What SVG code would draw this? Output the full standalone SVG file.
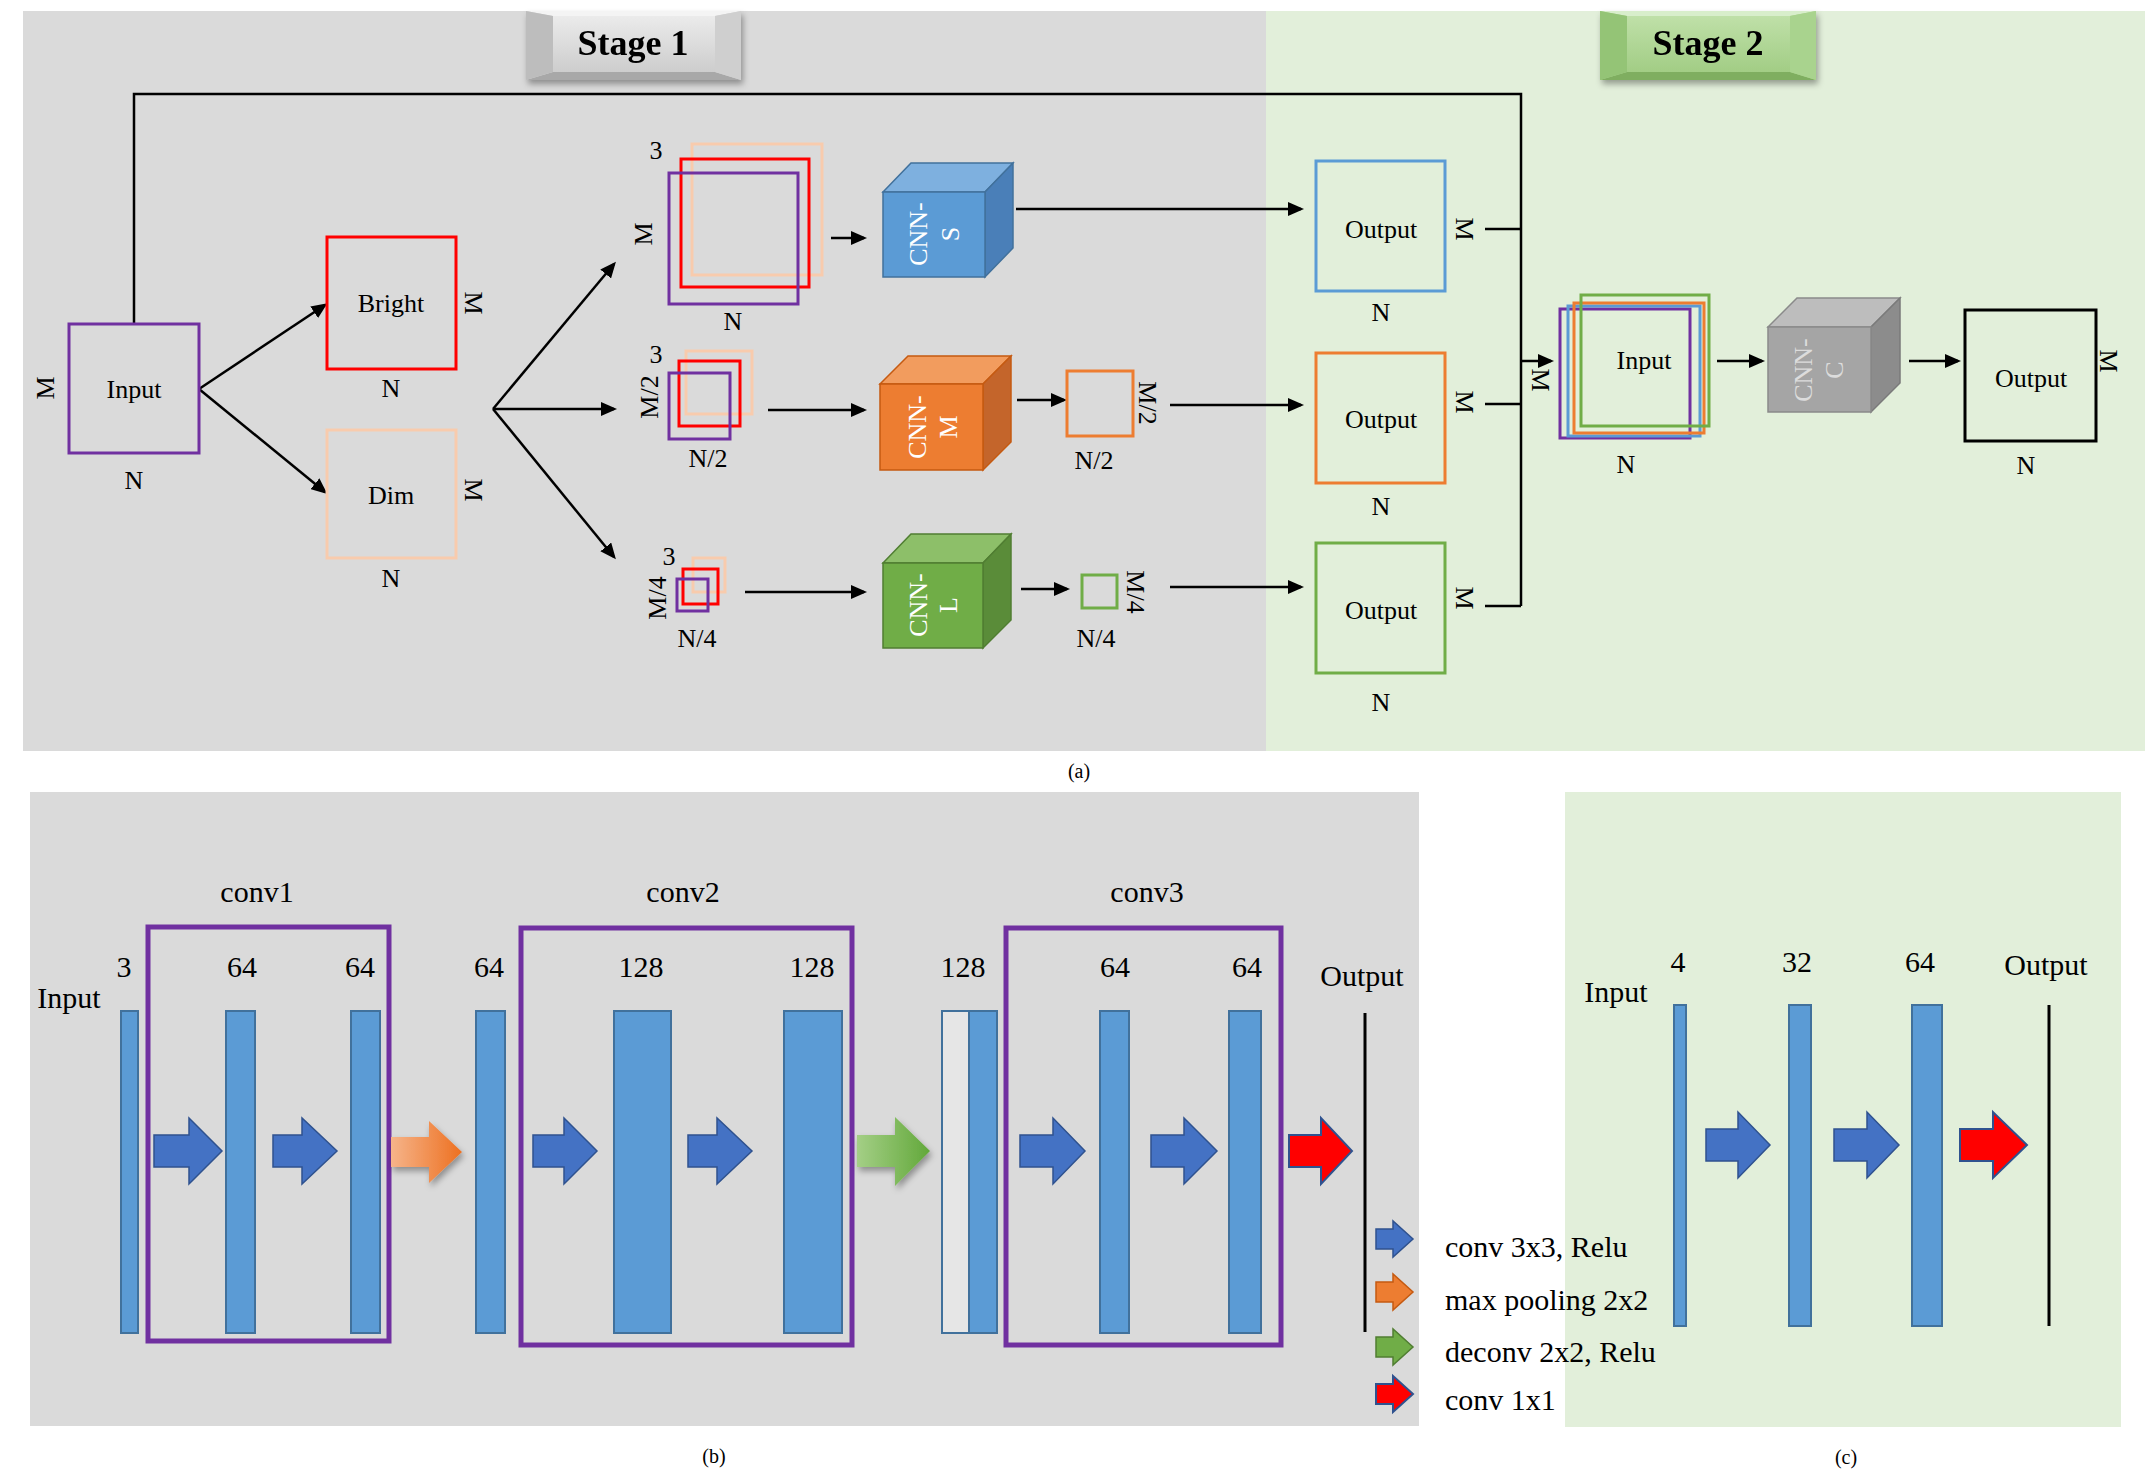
<svg xmlns="http://www.w3.org/2000/svg" width="2148" height="1484" viewBox="0 0 2148 1484">
  <style>
    .t { font-family: "Liberation Serif", "Times New Roman", serif; font-size: 26px; fill: #000; text-anchor: middle; }
    .tb { font-family: "Liberation Serif", "Times New Roman", serif; font-size: 30px; fill: #000; text-anchor: middle; }
    .tl { font-family: "Liberation Serif", "Times New Roman", serif; font-size: 30px; fill: #000; text-anchor: start; }
    .cap { font-family: "Liberation Serif", "Times New Roman", serif; font-size: 20px; fill: #000; text-anchor: middle; }
    .stage { font-family: "Liberation Serif", "Times New Roman", serif; font-size: 36px; font-weight: bold; fill: #000; text-anchor: middle; }
    .cnn { font-family: "Liberation Serif", "Times New Roman", serif; font-size: 26px; fill: #fff; text-anchor: middle; }
    .box { fill: none; stroke-width: 3; }
    .link { fill: none; stroke: #000; stroke-width: 2.5; }
    .arr { fill: none; stroke: #000; stroke-width: 2.5; marker-end: url(#head); }
    .bar { fill: #5b9bd5; stroke: #41719c; stroke-width: 2; }
    .blk { fill: #4472c4; stroke: #2f528f; stroke-width: 1.5; }
    .red { fill: #ff0000; stroke: #2f528f; stroke-width: 2; }
    .grp { fill: none; stroke: #7030a0; stroke-width: 5; }
  </style>
  <defs>
    <marker id="head" markerUnits="userSpaceOnUse" markerWidth="16" markerHeight="14" refX="13" refY="7" orient="auto">
      <path d="M0,0 L16,7 L0,14 Z" fill="#000"/>
    </marker>
    <linearGradient id="gFace" x1="0" y1="0" x2="0" y2="1">
      <stop offset="0" stop-color="#ebebeb"/>
      <stop offset="1" stop-color="#cdcdcd"/>
    </linearGradient>
    <linearGradient id="gFaceG" x1="0" y1="0" x2="0" y2="1">
      <stop offset="0" stop-color="#bfe0a8"/>
      <stop offset="1" stop-color="#a2cd85"/>
    </linearGradient>
    <linearGradient id="gOrange" x1="0" y1="0" x2="1" y2="0">
      <stop offset="0" stop-color="#f6b48a"/>
      <stop offset="1" stop-color="#ed7020"/>
    </linearGradient>
    <linearGradient id="gGreen" x1="0" y1="0" x2="1" y2="0">
      <stop offset="0" stop-color="#a4cf86"/>
      <stop offset="1" stop-color="#62a83a"/>
    </linearGradient>
    <filter id="shadow" x="-20%" y="-20%" width="150%" height="160%">
      <feDropShadow dx="2" dy="4" stdDeviation="3" flood-color="#000" flood-opacity="0.35"/>
    </filter>
  </defs>

  <!-- panel backgrounds -->
  <rect x="23" y="11" width="1243" height="740" fill="#dadada"/>
  <rect x="1266" y="11" width="879" height="740" fill="#e2efda"/>
  <rect x="30" y="792" width="1389" height="634" fill="#dadada"/>
  <rect x="1565" y="792" width="556" height="635" fill="#e2efda"/>

  <!-- stage banners -->
  <g id="stage1" filter="url(#shadow)">
    <rect x="526" y="11" width="215" height="69" fill="#d6d6d6"/>
    <polygon points="526,11 741,11 715,16 553,16" fill="#f4f4f4"/>
    <polygon points="526,80 553,72 715,72 741,80" fill="#a8a8a8"/>
    <polygon points="526,11 553,16 553,72 526,80" fill="#bdbdbd"/>
    <polygon points="741,11 715,16 715,72 741,80" fill="#cfcfcf"/>
    <rect x="553" y="16" width="162" height="56" fill="url(#gFace)"/>
    <text class="stage" x="633" y="55">Stage 1</text>
  </g>
  <g id="stage2" filter="url(#shadow)">
    <rect x="1600" y="11" width="216" height="69" fill="#acd490"/>
    <polygon points="1600,11 1816,11 1790,16 1627,16" fill="#d8eecb"/>
    <polygon points="1600,80 1627,72 1790,72 1816,80" fill="#7fae60"/>
    <polygon points="1600,11 1627,16 1627,72 1600,80" fill="#94c476"/>
    <polygon points="1816,11 1790,16 1790,72 1816,80" fill="#a9d38e"/>
    <rect x="1627" y="16" width="163" height="56" fill="url(#gFaceG)"/>
    <text class="stage" x="1708" y="55">Stage 2</text>
  </g>

  <!-- connectors of panel (a) -->
  <g id="connectors">
    <path class="link" d="M134,324 V94 H1521 V606"/>
    <path class="link" d="M1485,229 H1521 M1485,404 H1521 M1485,606 H1521"/>
    <line class="arr" x1="1521" y1="361" x2="1551" y2="361"/>
    <line class="arr" x1="199" y1="389" x2="325" y2="305"/>
    <line class="arr" x1="199" y1="389" x2="325" y2="492"/>
    <line class="arr" x1="493" y1="409" x2="614" y2="264"/>
    <line class="arr" x1="493" y1="409" x2="614" y2="409"/>
    <line class="arr" x1="493" y1="409" x2="614" y2="557"/>
    <line class="arr" x1="831" y1="238" x2="864" y2="238"/>
    <line class="arr" x1="1016" y1="209" x2="1301" y2="209"/>
    <line class="arr" x1="768" y1="410" x2="864" y2="410"/>
    <line class="arr" x1="1017" y1="400" x2="1064" y2="400"/>
    <line class="arr" x1="1170" y1="405" x2="1301" y2="405"/>
    <line class="arr" x1="745" y1="592" x2="864" y2="592"/>
    <line class="arr" x1="1021" y1="589" x2="1067" y2="589"/>
    <line class="arr" x1="1170" y1="587" x2="1301" y2="587"/>
    <line class="arr" x1="1717" y1="361" x2="1762" y2="361"/>
    <line class="arr" x1="1909" y1="361" x2="1958" y2="361"/>
  </g>

  <!-- input image -->
  <g id="input">
    <rect class="box" x="69" y="324" width="130" height="129" stroke="#7030a0"/>
    <text class="t" x="134" y="398">Input</text>
    <text class="t" transform="translate(54,388) rotate(-90)">M</text>
    <text class="t" x="134" y="489">N</text>
  </g>

  <g id="bright">
    <rect class="box" x="327" y="237" width="129" height="132" stroke="#ff0000"/>
    <text class="t" x="391" y="312">Bright</text>
    <text class="t" transform="translate(465,303) rotate(90)">M</text>
    <text class="t" x="391" y="397">N</text>
  </g>

  <g id="dim">
    <rect class="box" x="327" y="430" width="129" height="128" stroke="#f8cbad" stroke-width="2.5"/>
    <text class="t" x="391" y="504">Dim</text>
    <text class="t" transform="translate(465,490) rotate(90)">M</text>
    <text class="t" x="391" y="587">N</text>
  </g>

  <!-- three-channel stacks at full, half and quarter size -->
  <g id="stack-s">
    <rect class="box" x="692" y="144" width="130" height="131" stroke="#f8cbad" stroke-width="2.5"/>
    <rect class="box" x="681" y="159" width="128" height="128" stroke="#ff0000"/>
    <rect class="box" x="669" y="173" width="129" height="131" stroke="#7030a0"/>
    <text class="t" x="656" y="159">3</text>
    <text class="t" transform="translate(652,234) rotate(-90)">M</text>
    <text class="t" x="733" y="330">N</text>
  </g>

  <g id="stack-m">
    <rect class="box" x="686" y="351" width="66" height="63" stroke="#f8cbad" stroke-width="2.5"/>
    <rect class="box" x="679" y="361" width="61" height="65" stroke="#ff0000"/>
    <rect class="box" x="669" y="373" width="61" height="66" stroke="#7030a0"/>
    <text class="t" x="656" y="363">3</text>
    <text class="t" transform="translate(658,397) rotate(-90)">M/2</text>
    <text class="t" x="708" y="467">N/2</text>
  </g>

  <g id="stack-l">
    <rect class="box" x="693" y="558" width="32" height="34" stroke="#f8cbad" stroke-width="2.5"/>
    <rect class="box" x="683" y="569" width="35" height="35" stroke="#ff0000"/>
    <rect class="box" x="677" y="579" width="31" height="32" stroke="#7030a0"/>
    <text class="t" x="669" y="565">3</text>
    <text class="t" transform="translate(666,598) rotate(-90)">M/4</text>
    <text class="t" x="697" y="647">N/4</text>
  </g>

  <!-- networks drawn as cubes -->
  <g id="cnn-s">
    <polygon points="883,192 911,163 1013,163 985,192" fill="#7eb0df" stroke="#41719c" stroke-width="1.5"/>
    <polygon points="985,192 1013,163 1013,248 985,277" fill="#4a7fb8" stroke="#41719c" stroke-width="1.5"/>
    <rect x="883" y="192" width="102" height="85" fill="#5b9bd5" stroke="#41719c" stroke-width="1.5"/>
    <text class="cnn" transform="translate(927,234) rotate(-90)">CNN-</text>
    <text class="cnn" transform="translate(959,234) rotate(-90)">S</text>
  </g>

  <g id="cnn-m">
    <polygon points="880,384 908,356 1011,356 983,384" fill="#f29c5e" stroke="#c55a11" stroke-width="1.5"/>
    <polygon points="983,384 1011,356 1011,442 983,470" fill="#c4652b" stroke="#c55a11" stroke-width="1.5"/>
    <rect x="880" y="384" width="103" height="86" fill="#ed7d31" stroke="#c55a11" stroke-width="1.5"/>
    <text class="cnn" transform="translate(926,427) rotate(-90)">CNN-</text>
    <text class="cnn" transform="translate(957,427) rotate(-90)">M</text>
  </g>

  <g id="out-m-small">
    <rect class="box" x="1067" y="371" width="66" height="65" stroke="#ed7d31" stroke-width="2.5"/>
    <text class="t" transform="translate(1139,403) rotate(90)">M/2</text>
    <text class="t" x="1094" y="469">N/2</text>
  </g>

  <g id="cnn-l">
    <polygon points="883,563 911,534 1011,534 983,563" fill="#8dbf69" stroke="#507e32" stroke-width="1.5"/>
    <polygon points="983,563 1011,534 1011,620 983,648" fill="#5a8c39" stroke="#507e32" stroke-width="1.5"/>
    <rect x="883" y="563" width="100" height="85" fill="#70ad47" stroke="#507e32" stroke-width="1.5"/>
    <text class="cnn" transform="translate(927,605) rotate(-90)">CNN-</text>
    <text class="cnn" transform="translate(957,605) rotate(-90)">L</text>
  </g>

  <g id="out-l-small">
    <rect class="box" x="1082" y="575" width="35" height="33" stroke="#70ad47" stroke-width="2.5"/>
    <text class="t" transform="translate(1127,592) rotate(90)">M/4</text>
    <text class="t" x="1096" y="647">N/4</text>
  </g>

  <!-- stage 2 -->
  <g id="output-s">
    <rect class="box" x="1316" y="161" width="129" height="130" stroke="#5b9bd5" stroke-width="2.5"/>
    <text class="t" x="1381" y="238">Output</text>
    <text class="t" transform="translate(1456,229) rotate(90)">M</text>
    <text class="t" x="1381" y="321">N</text>
  </g>

  <g id="output-m">
    <rect class="box" x="1316" y="353" width="129" height="130" stroke="#ed7d31" stroke-width="2.5"/>
    <text class="t" x="1381" y="428">Output</text>
    <text class="t" transform="translate(1456,402) rotate(90)">M</text>
    <text class="t" x="1381" y="515">N</text>
  </g>

  <g id="output-l">
    <rect class="box" x="1316" y="543" width="129" height="130" stroke="#70ad47" stroke-width="2.5"/>
    <text class="t" x="1381" y="619">Output</text>
    <text class="t" transform="translate(1456,598) rotate(90)">M</text>
    <text class="t" x="1381" y="711">N</text>
  </g>

  <g id="input-2">
    <rect class="box" x="1560" y="309" width="130" height="129" stroke="#7030a0" stroke-width="2.5"/>
    <rect class="box" x="1568" y="306" width="132" height="130" stroke="#5b9bd5" stroke-width="2.5"/>
    <rect class="box" x="1574" y="303" width="130" height="130" stroke="#ed7d31" stroke-width="2.5"/>
    <rect class="box" x="1581" y="295" width="128" height="131" stroke="#70ad47" stroke-width="2.5"/>
    <text class="t" x="1644" y="369">Input</text>
    <text class="t" transform="translate(1532,380) rotate(90)">M</text>
    <text class="t" x="1626" y="473">N</text>
  </g>

  <g id="cnn-c">
    <polygon points="1768,327 1797,298 1900,298 1871,327" fill="#bdbdbd" stroke="#8a8a8a" stroke-width="1.5"/>
    <polygon points="1871,327 1900,298 1900,383 1871,412" fill="#8c8c8c" stroke="#7a7a7a" stroke-width="1.5"/>
    <rect x="1768" y="327" width="103" height="85" fill="#a5a5a5" stroke="#8a8a8a" stroke-width="1.5"/>
    <text class="cnn" transform="translate(1812,370) rotate(-90)" fill="#dcdcdc" style="fill:#dcdcdc">CNN-</text>
    <text class="cnn" transform="translate(1843,370) rotate(-90)" style="fill:#dcdcdc">C</text>
  </g>

  <g id="output-final">
    <rect class="box" x="1965" y="310" width="131" height="131" stroke="#000"/>
    <text class="t" x="2031" y="387">Output</text>
    <text class="t" transform="translate(2100,361) rotate(90)">M</text>
    <text class="t" x="2026" y="474">N</text>
  </g>

  <text class="cap" x="1079" y="778">(a)</text>

  <!-- panel (b): single-scale network -->
  <g id="net-b">
    <text class="tb" x="257" y="902">conv1</text>
    <text class="tb" x="683" y="902">conv2</text>
    <text class="tb" x="1147" y="902">conv3</text>
    <rect class="grp" x="148" y="927" width="241" height="414"/>
    <rect class="grp" x="521" y="928" width="331" height="417"/>
    <rect class="grp" x="1006" y="928" width="275" height="417"/>

    <text class="tb" x="69" y="1008">Input</text>
    <text class="tb" x="124" y="977">3</text>
    <text class="tb" x="242" y="977">64</text>
    <text class="tb" x="360" y="977">64</text>
    <text class="tb" x="489" y="977">64</text>
    <text class="tb" x="641" y="977">128</text>
    <text class="tb" x="812" y="977">128</text>
    <text class="tb" x="963" y="977">128</text>
    <text class="tb" x="1115" y="977">64</text>
    <text class="tb" x="1247" y="977">64</text>
    <text class="tb" x="1362" y="986">Output</text>

    <rect class="bar" x="121" y="1011" width="17" height="322"/>
    <rect class="bar" x="226" y="1011" width="29" height="322"/>
    <rect class="bar" x="351" y="1011" width="29" height="322"/>
    <rect class="bar" x="476" y="1011" width="29" height="322"/>
    <rect class="bar" x="614" y="1011" width="57" height="322"/>
    <rect class="bar" x="784" y="1011" width="58" height="322"/>
    <rect x="942" y="1011" width="27" height="322" fill="#e6e6e6" stroke="#41719c" stroke-width="2"/>
    <rect class="bar" x="969" y="1011" width="28" height="322"/>
    <rect class="bar" x="1100" y="1011" width="29" height="322"/>
    <rect class="bar" x="1229" y="1011" width="32" height="322"/>
    <line x1="1365" y1="1013" x2="1365" y2="1332" stroke="#000" stroke-width="3"/>

    <polygon class="blk" points="154,1135 189,1135 189,1118 222,1151 189,1184 189,1167 154,1167"/>
    <polygon class="blk" points="273,1135 302,1135 302,1118 337,1151 302,1184 302,1167 273,1167"/>
    <polygon points="391,1137 429,1137 429,1121 462,1152 429,1183 429,1167 391,1167" fill="url(#gOrange)" filter="url(#shadow)"/>
    <polygon class="blk" points="533,1135 564,1135 564,1118 597,1151 564,1184 564,1167 533,1167"/>
    <polygon class="blk" points="688,1135 717,1135 717,1118 752,1151 717,1184 717,1167 688,1167"/>
    <polygon points="857,1135 895,1135 895,1117 930,1151 895,1186 895,1167 857,1167" fill="url(#gGreen)" filter="url(#shadow)"/>
    <polygon class="blk" points="1020,1135 1053,1135 1053,1118 1085,1151 1053,1184 1053,1167 1020,1167"/>
    <polygon class="blk" points="1151,1135 1184,1135 1184,1118 1217,1151 1184,1184 1184,1167 1151,1167"/>
    <polygon class="red" points="1289,1135 1321,1135 1321,1118 1352,1151 1321,1184 1321,1167 1289,1167"/>
  </g>

  <!-- legend -->
  <g id="legend">
    <polygon class="blk" points="1376,1229 1393,1229 1393,1221 1413,1239 1393,1257 1393,1249 1376,1249"/>
    <polygon points="1376,1282 1393,1282 1393,1274 1413,1292 1393,1310 1393,1302 1376,1302" fill="#ed7d31" stroke="#c55a11" stroke-width="1.5"/>
    <polygon points="1376,1337 1393,1337 1393,1329 1413,1347 1393,1365 1393,1357 1376,1357" fill="#70ad47" stroke="#507e32" stroke-width="1.5"/>
    <polygon class="red" points="1376,1384 1393,1384 1393,1376 1413,1394 1393,1412 1393,1404 1376,1404"/>
    <text class="tl" x="1445" y="1257">conv 3x3, Relu</text>
    <text class="tl" x="1445" y="1310">max pooling 2x2</text>
    <text class="tl" x="1445" y="1362">deconv 2x2, Relu</text>
    <text class="tl" x="1445" y="1410">conv 1x1</text>
  </g>

  <text class="cap" x="714" y="1463">(b)</text>

  <!-- panel (c): fusion network -->
  <g id="net-c">
    <text class="tb" x="1616" y="1002">Input</text>
    <text class="tb" x="1678" y="972">4</text>
    <text class="tb" x="1797" y="972">32</text>
    <text class="tb" x="1920" y="972">64</text>
    <text class="tb" x="2046" y="975">Output</text>
    <rect class="bar" x="1674" y="1005" width="12" height="321"/>
    <rect class="bar" x="1789" y="1005" width="22" height="321"/>
    <rect class="bar" x="1912" y="1005" width="30" height="321"/>
    <line x1="2049" y1="1005" x2="2049" y2="1326" stroke="#000" stroke-width="3"/>
    <polygon class="blk" points="1706,1129 1738,1129 1738,1112 1770,1145 1738,1178 1738,1161 1706,1161"/>
    <polygon class="blk" points="1834,1129 1867,1129 1867,1112 1899,1145 1867,1178 1867,1161 1834,1161"/>
    <polygon class="red" points="1960,1129 1993,1129 1993,1112 2027,1145 1993,1178 1993,1161 1960,1161"/>
  </g>

  <text class="cap" x="1846" y="1464">(c)</text>
</svg>
